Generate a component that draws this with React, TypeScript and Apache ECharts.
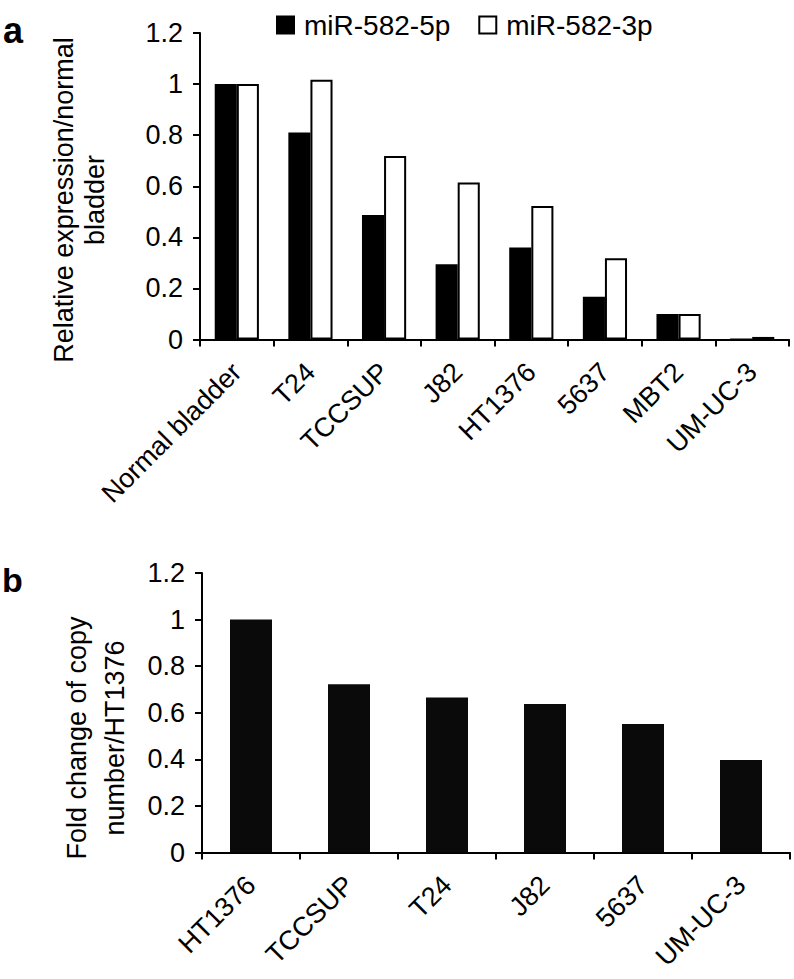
import React, { useEffect, useRef } from "react";
import * as echarts from "echarts";

const topCategories = ["Normal bladder", "T24", "TCCSUP", "J82", "HT1376", "5637", "MBT2", "UM-UC-3"];
const mir5p = [1.0, 0.81, 0.487, 0.295, 0.36, 0.167, 0.1, 0];
const mir3p = [1.0, 1.017, 0.718, 0.615, 0.523, 0.318, 0.1, 0.01];
const seriesNames = ["miR-582-5p", "miR-582-3p"];

const bottomCategories = ["HT1376", "TCCSUP", "T24", "J82", "5637", "UM-UC-3"];
const copyNumber = [1.0, 0.722, 0.665, 0.638, 0.552, 0.397];

const topYTitle = "Relative expression/normal\nbladder";
const bottomYTitle = "Fold change of copy\nnumber/HT1376";

const FONT = "'Liberation Sans', Arial, Helvetica, sans-serif";

export default function App() {
  const ref = useRef<HTMLDivElement>(null);
  useEffect(() => {
    if (!ref.current) return;
    const chart = echarts.init(ref.current, undefined, { renderer: "svg" });
    const axisLine = { show: true, lineStyle: { color: "#000", width: 2 } };
    const axisTick = { show: true, inside: false, length: 7, lineStyle: { color: "#000", width: 2 } };
    const yAxisCommon = {
      type: "value" as const,
      min: 0,
      max: 1.2,
      interval: 0.2,
      axisLine,
      axisTick,
      splitLine: { show: false },
      axisLabel: { color: "#000", fontSize: 27, fontFamily: FONT, margin: 17 },
    };
    const xAxisCommon = {
      type: "category" as const,
      axisLine,
      axisTick: { ...axisTick, alignWithLabel: false },
      axisLabel: { color: "#000", fontSize: 27, fontFamily: FONT, rotate: 45, interval: 0, margin: 28 },
    };
    chart.setOption({
      animation: false,
      backgroundColor: "#fff",
      textStyle: { fontFamily: FONT },
      legend: {
        left: 271,
        top: 6,
        icon: "rect",
        itemWidth: 17,
        itemHeight: 17,
        itemGap: 28,
        textStyle: { color: "#000", fontSize: 28, fontFamily: FONT, padding: [0, 0, 0, 5] },
        data: [
          { name: seriesNames[0], itemStyle: { color: "#000", borderColor: "#000", borderWidth: 2 } },
          { name: seriesNames[1], itemStyle: { color: "#fff", borderColor: "#000", borderWidth: 2 } },
        ],
      },
      grid: [
        { left: 200, top: 33, width: 589, height: 306.5 },
        { left: 202, top: 573, width: 588, height: 279.5 },
      ],
      xAxis: [
        { ...xAxisCommon, gridIndex: 0, data: topCategories },
        { ...xAxisCommon, gridIndex: 1, data: bottomCategories },
      ],
      yAxis: [
        { ...yAxisCommon, gridIndex: 0 },
        { ...yAxisCommon, gridIndex: 1 },
      ],
      series: [
        {
          name: seriesNames[0],
          type: "bar",
          xAxisIndex: 0,
          yAxisIndex: 0,
          data: mir5p,
          barGap: "0%",
          barCategoryGap: "40%",
          itemStyle: { color: "#000", borderColor: "#000", borderWidth: 2 },
        },
        {
          name: seriesNames[1],
          type: "bar",
          xAxisIndex: 0,
          yAxisIndex: 0,
          data: mir3p,
          barGap: "0%",
          barCategoryGap: "40%",
          itemStyle: { color: "#fff", borderColor: "#000", borderWidth: 2 },
        },
        {
          name: "copy",
          type: "bar",
          xAxisIndex: 1,
          yAxisIndex: 1,
          data: copyNumber,
          barWidth: 42,
          itemStyle: { color: "#0a0a0a" },
        },
      ],
      graphic: [
        {
          type: "text",
          left: 3,
          top: 12,
          style: { text: "a", font: `bold 36px ${FONT}`, fill: "#000" },
        },
        {
          type: "text",
          left: 2,
          top: 563,
          style: { text: "b", font: `bold 34px ${FONT}`, fill: "#000" },
        },
        {
          type: "text",
          x: 79,
          y: 200,
          rotation: Math.PI / 2,
          style: {
            text: topYTitle,
            font: `27px ${FONT}`,
            fill: "#000",
            align: "center",
            verticalAlign: "middle",
            lineHeight: 31,
          },
        },
        {
          type: "text",
          x: 96,
          y: 738,
          rotation: Math.PI / 2,
          style: {
            text: bottomYTitle,
            font: `27px ${FONT}`,
            fill: "#000",
            align: "center",
            verticalAlign: "middle",
            lineHeight: 38,
          },
        },
      ],
    });
    return () => chart.dispose();
  }, []);
  return (
    <div
      ref={ref}
      style={{ position: "absolute", left: 0, top: 0, width: 794, height: 979, background: "#fff" }}
    />
  );
}
